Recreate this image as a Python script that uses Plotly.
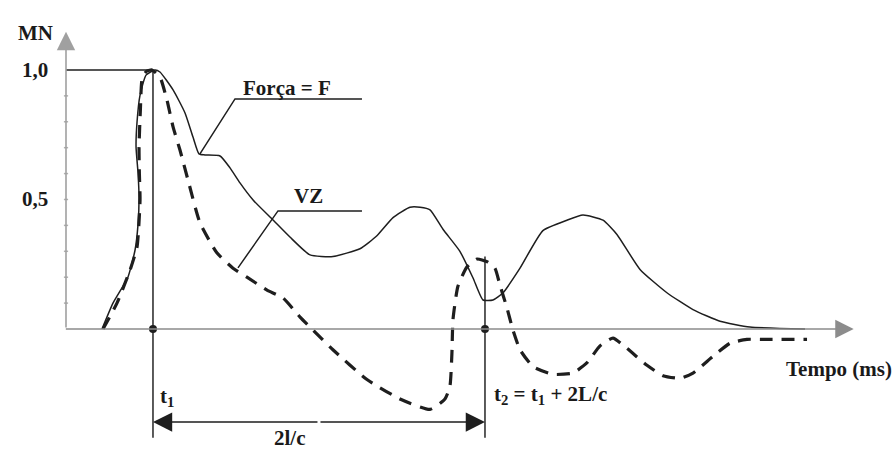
import plotly.graph_objects as go

# Force (solid) and velocity x impedance (dashed) at the pile head
time_force = [2.17, 2.83, 3.73, 4.16, 4.34, 4.40, 4.34, 4.22, 4.28, 4.46, 4.82, 5.36,
              5.66, 6.45, 7.17, 7.65, 8.01, 8.37, 9.28, 9.88, 10.48, 11.27, 12.47,
              13.49, 14.70, 16.08, 17.71, 18.73, 19.70, 20.72, 21.33, 21.93, 22.71,
              23.73, 24.52, 25.12, 25.72, 26.33, 27.35, 28.73, 30.18, 31.14, 32.35,
              33.19, 34.58, 36.20, 37.77, 39.40, 41.20, 44.52]
force = [0.0, 0.10, 0.20, 0.305, 0.405, 0.506, 0.602, 0.703, 0.80, 0.903, 0.98, 1.0,
         0.992, 0.923, 0.834, 0.741, 0.676, 0.672, 0.668, 0.622, 0.564, 0.498, 0.421,
         0.355, 0.286, 0.28, 0.31, 0.36, 0.43, 0.47, 0.47, 0.46, 0.385,
         0.30, 0.197, 0.112, 0.112, 0.14, 0.235, 0.38, 0.42, 0.44, 0.42,
         0.365, 0.23, 0.14, 0.075, 0.03, 0.008, 0.0]

time_vz = [2.23, 3.07, 3.86, 4.28, 4.46, 4.42, 4.40, 4.48, 4.60, 4.88, 5.18,
           5.66, 6.08, 6.45, 6.87, 7.35, 8.07, 9.10, 10.06, 10.90, 12.11, 13.07,
           14.10, 14.88, 16.08, 18.13, 20.12, 21.93, 22.83, 23.13, 23.25, 23.31,
           23.61, 24.16, 24.76, 25.36, 25.84, 26.14, 26.57, 26.93, 27.35, 28.13,
           29.34, 30.54, 31.39, 32.17, 32.95, 33.80, 35.0, 35.96, 36.99, 37.77,
           38.98, 40.0, 41.02, 42.23, 44.64]
vz = [0.0, 0.10, 0.228, 0.317, 0.498, 0.60, 0.703, 0.845, 0.973, 0.996, 1.0,
      0.973, 0.884, 0.78, 0.69, 0.575, 0.41, 0.293, 0.235, 0.20, 0.15, 0.12,
      0.046, -0.004, -0.08, -0.195, -0.27, -0.31, -0.27, -0.22, -0.09, 0.035,
      0.165, 0.24, 0.27, 0.26, 0.235, 0.17, 0.08, -0.005, -0.08, -0.145,
      -0.175, -0.17, -0.13, -0.065, -0.035, -0.075, -0.14, -0.18, -0.19, -0.17,
      -0.105, -0.055, -0.04, -0.04, -0.04]

t1 = 5.24          # ms, instant of peak
two_l_c = 20.0     # ms, wave travel time 2L/c
t2 = t1 + two_l_c
y_ticks = [0.1, 0.2, 0.3, 0.4, 0.5, 0.6, 0.7, 0.8, 0.9]
y_labels = {1.0: "1,0", 0.5: "0,5"}

FONT = dict(family="Liberation Serif", size=21, color="#1a1a1a")
INK = "#1e1e1e"
AXIS = "#8c8c8c"

fig = go.Figure()

# horizontal reference at the peak value
fig.add_trace(go.Scatter(x=[0, t1], y=[1.0, 1.0], mode="lines",
                         line=dict(color=INK, width=1.6)))
# vertical markers at t1 and t2
fig.add_trace(go.Scatter(x=[t1, t1], y=[1.0, -0.42], mode="lines",
                         line=dict(color="#333", width=1.6)))
fig.add_trace(go.Scatter(x=[t2, t2], y=[0.28, -0.42], mode="lines",
                         line=dict(color="#333", width=1.6)))

# curves
fig.add_trace(go.Scatter(x=time_force, y=force, mode="lines",
                         line=dict(color=INK, width=1.5, shape="spline", smoothing=0.5)))
fig.add_trace(go.Scatter(x=time_vz, y=vz, mode="lines",
                         line=dict(color=INK, width=3.2, dash="13px,9px",
                                   shape="spline", smoothing=0.5)))

# y axis ticks
fig.add_trace(go.Scatter(x=[0] * len(y_ticks), y=y_ticks, mode="markers",
                         marker=dict(symbol="line-ew", size=3,
                                     line=dict(color="#b0b0b0", width=1.5))))

# points on the time axis
fig.add_trace(go.Scatter(x=[t1, t2], y=[0, 0], mode="markers",
                         marker=dict(color=INK, size=8)))

# leader lines for the labels
fig.add_trace(go.Scatter(x=[8.07, 10.18, 17.83], y=[0.676, 0.888, 0.888], mode="lines",
                         line=dict(color=INK, width=1.5)))
fig.add_trace(go.Scatter(x=[10.36, 12.77, 17.83], y=[0.236, 0.456, 0.456], mode="lines",
                         line=dict(color=INK, width=1.5)))

ann = []
# axes with arrowheads
ann.append(dict(x=0, y=1.147, ax=0, ay=0, xref="x", yref="y", axref="x", ayref="y",
                showarrow=True, arrowhead=2, arrowsize=2.3, arrowwidth=1.6,
                arrowcolor="#a0a0a0", text=""))
ann.append(dict(x=47.45, y=0, ax=-0.1, ay=0, xref="x", yref="y", axref="x", ayref="y",
                showarrow=True, arrowhead=2, arrowsize=2.3, arrowwidth=1.6,
                arrowcolor=AXIS, text=""))
# 2l/c double arrow
mid = (t1 + t2) / 2
for tip in (t1, t2):
    ann.append(dict(x=tip, y=-0.359, ax=mid, ay=-0.359, xref="x", yref="y",
                    axref="x", ayref="y", showarrow=True, arrowhead=2,
                    arrowsize=2.4, arrowwidth=1.6, arrowcolor=INK, text=""))

# text
ann.append(dict(x=-0.66, y=1.143, text="<b>MN</b>", showarrow=False, xanchor="right",
                font=FONT))
for val, lab in y_labels.items():
    ann.append(dict(x=-0.96, y=val, text=f"<b>{lab}</b>", showarrow=False,
                    xanchor="right", font=FONT))
ann.append(dict(x=13.3, y=0.93, text="<b>Força = F</b>", showarrow=False, font=FONT))
ann.append(dict(x=14.58, y=0.513, text="<b>VZ</b>", showarrow=False, font=FONT))
ann.append(dict(x=49.85, y=-0.154, text="<b>Tempo (ms)</b>", showarrow=False,
                xanchor="right", font=FONT))
ann.append(dict(x=6.1, y=-0.263, text="<b>t<sub>1</sub></b>", showarrow=False, font=FONT))
ann.append(dict(x=25.66, y=-0.255, text="<b>t<sub>2</sub> = t<sub>1</sub> + 2L/c</b>",
                showarrow=False, xanchor="left", font=FONT))
ann.append(dict(x=13.5, y=-0.42, text="<b>2l/c</b>", showarrow=False, font=FONT))

fig.update_layout(
    width=894, height=457,
    margin=dict(l=0, r=0, t=0, b=0),
    paper_bgcolor="white", plot_bgcolor="white",
    showlegend=False,
    xaxis=dict(visible=False, range=[-3.976, 49.88], fixedrange=True),
    yaxis=dict(visible=False, range=[-0.494, 1.270], fixedrange=True),
    annotations=ann,
)

fig.write_html("out.html")
